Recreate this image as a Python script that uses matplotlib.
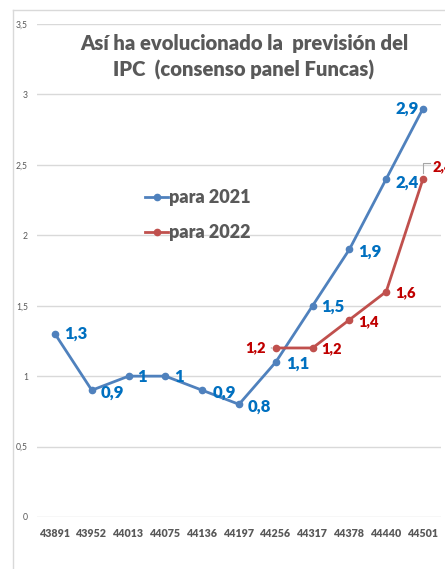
import numpy as np
import matplotlib.pyplot as plt
from matplotlib.lines import Line2D

plt.rcParams['font.family'] = ['Lato', 'DejaVu Sans']

# data
fechas = ['43891', '43952', '44013', '44075', '44136', '44197',
          '44256', '44317', '44378', '44440', '44501']
para_2021 = [1.3, 0.9, 1.0, 1.0, 0.9, 0.8, 1.1, 1.5, 1.9, 2.4, 2.9]
para_2022 = [None, None, None, None, None, None, 1.2, 1.2, 1.4, 1.6, 2.4]

gris = '#595959'
azul_linea = '#4F81BD'
rojo_linea = '#C0504D'
azul_txt = '#0070C0'
rojo_txt = '#C00000'

W, H = 445, 569
fig = plt.figure(figsize=(W / 100, H / 100), dpi=100)
ax = fig.add_axes([36.6 / W, (H - 517) / H, (441.4 - 36.6) / W, (517 - 24) / H])

x = np.arange(len(fechas))
y22 = np.array([np.nan if v is None else v for v in para_2022])

ax.plot(x, para_2021, color=azul_linea, lw=2.0, marker='o', ms=4.5,
        label='para 2021', zorder=3)
ax.plot(x, y22, color=rojo_linea, lw=2.0, marker='o', ms=4.5,
        label='para 2022', zorder=3)

ax.set_xlim(-0.5, len(fechas) - 0.5)
ax.set_ylim(0, 3.5)
ax.set_yticks(np.arange(0, 3.51, 0.5))
ax.set_yticklabels([('%g' % v).replace('.', ',') for v in np.arange(0, 3.51, 0.5)])
ax.set_xticks(x)
ax.set_xticklabels(fechas, fontweight='heavy')
ax.tick_params(axis='x', length=0, pad=8, labelsize=7.7, labelcolor=gris)
ax.tick_params(axis='y', length=0, pad=6.2, labelsize=6.2, labelcolor=gris)
ax.grid(axis='y', color='#D9D9D9', lw=1)
ax.set_axisbelow(True)
for s in ax.spines.values():
    s.set_visible(False)

def fmt(v):
    return ('%g' % v).replace('.', ',')

# blue labels: offsets in pixels (dx, dy), alignment
off21 = [(9, 0, 'left'), (9, -2, 'left'), (9, -1, 'left'), (9, -1, 'left'),
         (10, -2, 'left'), (9, -2, 'left'), (10, -2, 'left'), (9, -1, 'left'),
         (9, -2, 'left'), (9, -4, 'left'), (-4, 0, 'right')]
for i, v in enumerate(para_2021):
    dx, dy, ha = off21[i]
    ax.annotate(fmt(v), (x[i], v), xytext=(dx, dy), textcoords='offset pixels',
                ha=ha, va='center', fontsize=12, fontweight='heavy',
                color=azul_txt, zorder=4)

off22 = {6: (-10, 0, 'right'), 7: (9, -1, 'left'), 8: (9, -2, 'left'),
         9: (9, -1, 'left'), 10: (10, 12, 'left')}
for i, v in enumerate(para_2022):
    if v is None:
        continue
    dx, dy, ha = off22[i]
    ax.annotate(fmt(v), (x[i], v), xytext=(dx, dy), textcoords='offset pixels',
                ha=ha, va='center', fontsize=10.5, fontweight='heavy',
                color=rojo_txt, zorder=4, annotation_clip=False)

# leader lines
ax.annotate('', (x[6] - 0.03, 1.2), xytext=(x[6] - 0.2, 1.2),
            arrowprops=dict(arrowstyle='-', color='#A6A6A6', lw=0.8))
ax.plot([x[10], x[10], x[10] + 0.18], [2.44, 2.51, 2.51],
        color='#A6A6A6', lw=0.8, zorder=2, clip_on=False)

# legend
leg = ax.legend(loc='upper left', bbox_to_anchor=(0.25, 0.68), frameon=False,
                prop={'size': 13, 'weight': 'heavy'}, handlelength=1.3,
                handletextpad=0.05, labelspacing=1.0, borderaxespad=0,
                labelcolor=gris)

# title
fig.text(244 / W, 1 - 57 / H,
         'Así ha evolucionado la  previsión del\nIPC  (consenso panel Funcas)',
         ha='center', va='center', fontsize=14.6, fontweight='heavy',
         color=gris, linespacing=1.4)

# chart border
fig.add_artist(Line2D([13 / W, 13 / W], [0, 1 - 10 / H], color='#D9D9D9', lw=1))
fig.add_artist(Line2D([13 / W, 1], [1 - 10 / H, 1 - 10 / H], color='#D9D9D9', lw=1))

fig.savefig('out.png', dpi=100)
